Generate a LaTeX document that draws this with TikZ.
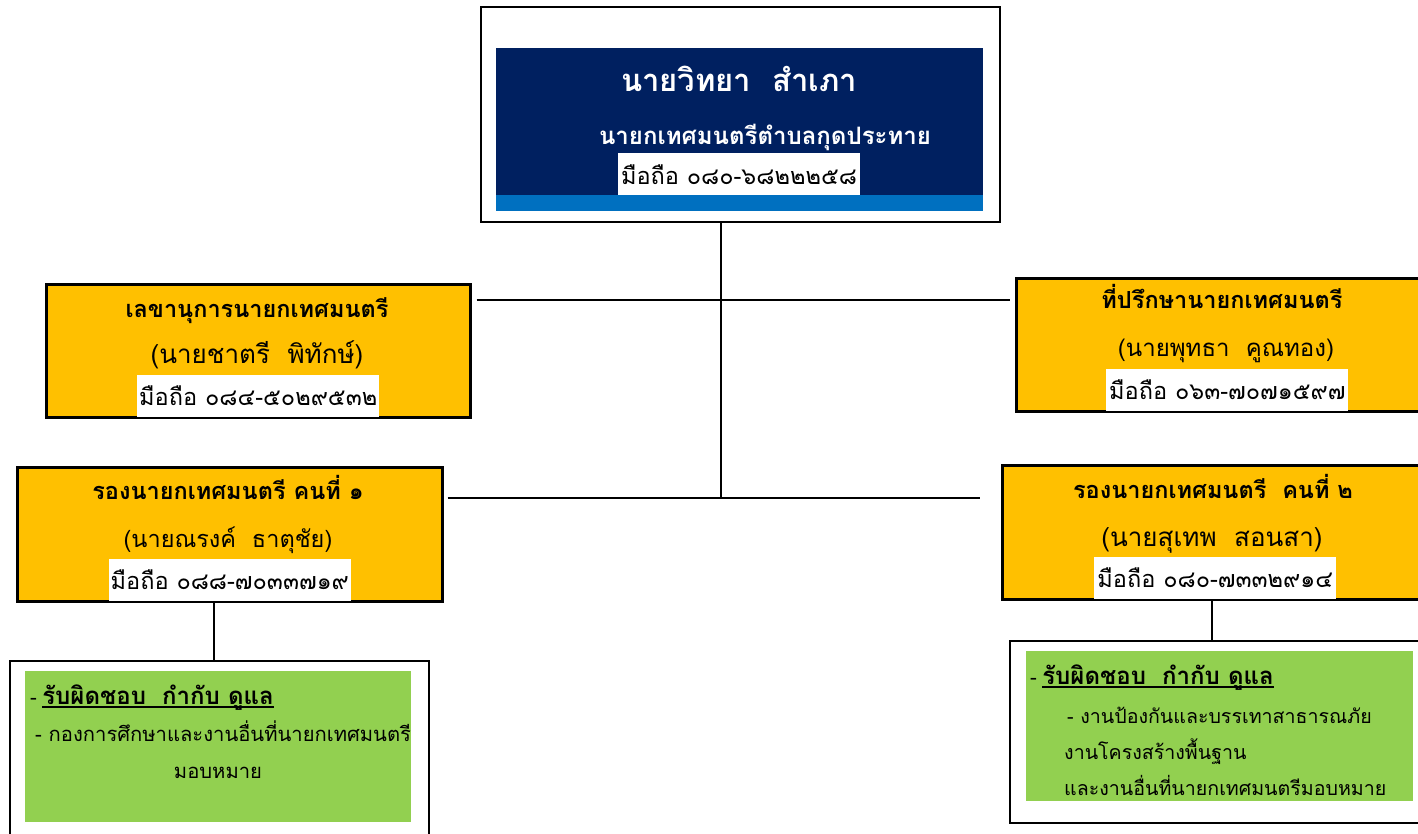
\documentclass[tikz,border=0pt]{standalone}
\usepackage{fontspec}
\newfontfamily\thai[Script=Thai]{Loma}
\usetikzlibrary{positioning}
\definecolor{navy}{HTML}{002060}
\definecolor{stripe}{HTML}{0070C0}
\definecolor{gold}{HTML}{FFC000}
\definecolor{leaf}{HTML}{92D050}
\tikzset{
	frame/.style={draw, line width=2pt, fill=white, inner sep=0pt, anchor=north west},
	post/.style={draw, line width=2.6pt, fill=gold, inner sep=0pt, anchor=north west},
	duty/.style={fill=leaf, inner sep=0pt, anchor=north west},
	phone/.style={fill=white, inner sep=0pt, anchor=south, minimum width=242pt, minimum height=42pt, text depth=0pt},
	txt/.style={inner sep=0pt, anchor=base},
	head/.style={txt, font=\thai\bfseries\fontsize{23.5}{28}\selectfont},
	who/.style={txt, font=\thai\fontsize{#1}{30}\selectfont},
	who/.default=25,
	tel/.style={font=\thai\fontsize{23.5}{28}\selectfont},
	job/.style={inner sep=0pt, anchor=base west, font=\thai\fontsize{20.2}{24}\selectfont},
	jobhead/.style={job, font=\thai\bfseries\fontsize{24}{28}\selectfont},
	link/.style={line width=2pt},
}

\begin{document}
\begin{tikzpicture}[x=1pt, y=-1pt]

	\useasboundingbox (0,0) rectangle (1418,834);

	% mayor
	\node[frame, minimum width=519pt, minimum height=215pt] (top) at (480,6) {};
	\node[fill=navy, inner sep=0pt, anchor=north west, minimum width=487pt, minimum height=147pt] (topin) at (496,48) {};
	\node[fill=stripe, inner sep=0pt, anchor=north west, minimum width=487pt, minimum height=16pt] (topbar) at (496,195) {};
	\node[txt, text=white, font=\thai\bfseries\fontsize{31}{36}\selectfont] (topname) at (739,92) {นายวิทยา\ \ สำเภา};
	\node[txt, text=white, font=\thai\bfseries\fontsize{24}{28}\selectfont] (toprole) at (765,145) {นายกเทศมนตรีตำบลกุดประทาย};
	\node[phone, tel] (toptel) at (739,195) {\raisebox{-2pt}{มือถือ ๐๘๐-๖๘๒๒๒๕๘}};

	% secretary
	\node[post, minimum width=424pt, minimum height=133pt] (sec) at (45,283) {};
	\node[head] (sechead) at (257,317) {เลขานุการนายกเทศมนตรี};
	\node[who=26] (secname) at (257,363) {(นายชาตรี\ \ พิทักษ์)};
	\node[phone, tel] (sectel) at ([yshift=1.3pt]sec.south) {มือถือ ๐๘๔-๕๐๒๙๕๓๒};

	% advisor
	\node[post, minimum width=422pt, minimum height=133pt] (adv) at (1015,277) {};
	\node[head] (advhead) at (1222,308) {ที่ปรึกษานายกเทศมนตรี};
	\node[who=24] (advname) at (1226,356) {(นายพุทธา\ \ คูณทอง)};
	\node[phone, tel] (advtel) at ([yshift=1.3pt]adv.south) {มือถือ ๐๖๓-๗๐๗๑๕๙๗};

	% deputy 1
	\node[post, minimum width=425pt, minimum height=134pt] (vice1) at (16,466) {};
	\node[head] (vice1head) at (228,499) {รองนายกเทศมนตรี คนที่ ๑};
	\node[who=23.5] (vice1name) at (228,547) {(นายณรงค์\ \ ธาตุชัย)};
	\node[phone, tel] (vice1tel) at ([yshift=1.3pt]vice1.south) {มือถือ ๐๘๘-๗๐๓๓๗๑๙};

	% deputy 2
	\node[post, minimum width=426pt, minimum height=134pt] (vice2) at (1001,464) {};
	\node[head] (vice2head) at (1213,498) {รองนายกเทศมนตรี\ \ คนที่ ๒};
	\node[who=26] (vice2name) at (1212,546) {(นายสุเทพ\ \ สอนสา)};
	\node[phone, tel] (vice2tel) at ([yshift=1.3pt]vice2.south) {มือถือ ๐๘๐-๗๓๓๒๙๑๔};

	% duties
	\node[frame, minimum width=419pt, minimum height=185pt] (lbox) at (9,660) {};
	\node[duty, minimum width=386pt, minimum height=151pt] (lduty) at (25,671) {};
	\node[job] (ldash) at (30,704) {-};
	\node[jobhead, right=5pt of ldash.base east, anchor=base west] (lhdr) {รับผิดชอบ\ \ กำกับ ดูแล};
	\node[job] (lline1) at (35,741) {- กองการศึกษาและงานอื่นที่นายกเทศมนตรี};
	\node[job, anchor=base] (lline2) at (218,778) {มอบหมาย};

	\node[frame, minimum width=416pt, minimum height=182pt] (rbox) at (1009,640) {};
	\node[duty, minimum width=387pt, minimum height=150pt] (rduty) at (1026,651) {};
	\node[job] (rdash) at (1030,684) {-};
	\node[jobhead, right=5pt of rdash.base east, anchor=base west] (rhdr) {รับผิดชอบ\ \ กำกับ ดูแล};
	\node[job, font=\thai\fontsize{19.6}{24}\selectfont] (rline1) at (1067,723) {- งานป้องกันและบรรเทาสาธารณภัย};
	\node[job, font=\thai\fontsize{19.6}{24}\selectfont] (rline2) at (1064,759) {งานโครงสร้างพื้นฐาน};
	\node[job, font=\thai\fontsize{19.6}{24}\selectfont] (rline3) at (1064,795) {และงานอื่นที่นายกเทศมนตรีมอบหมาย};

	\draw[line width=1.6pt] ([yshift=-3pt]lhdr.base west) -- ([yshift=-3pt]lhdr.base east);
	\draw[line width=1.6pt] ([yshift=-3pt]rhdr.base west) -- ([yshift=-3pt]rhdr.base east);

	% connectors
	\coordinate (hub) at (721,498);
	\coordinate (mid) at (721,300);
	\draw[link] (top.south -| hub) -- (hub);
	\draw[link] ([xshift=5pt]sec.east |- mid) -- ([xshift=-5pt]adv.west |- mid);
	\draw[link] ([xshift=4pt]vice1.east |- hub) -- ([xshift=-21pt]vice2.west |- hub);
	\draw[link] ([xshift=-15.5pt]vice1.south) -- ([xshift=-15.5pt]vice1.south |- lbox.north);
	\draw[link] ([xshift=-3pt]vice2.south) -- ([xshift=-3pt]vice2.south |- rbox.north);

\end{tikzpicture}
\end{document}
